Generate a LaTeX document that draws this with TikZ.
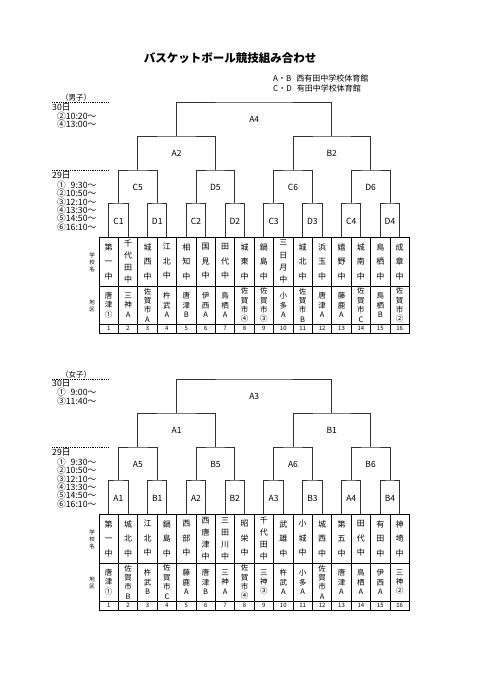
\documentclass[tikz,border=0pt]{standalone}
\usepackage{fontspec}
\setmainfont{Noto Sans CJK JP}
\usetikzlibrary{calc}

\begin{document}
\begin{tikzpicture}[x=1pt, y=-1pt,
  bline/.style={draw=black!80, line width=1pt},
  cell/.style={draw, line width=0.7pt, inner sep=0pt, minimum width=19.4pt, align=center},
  namecell/.style={cell, minimum height=49pt},
  regcell/.style={cell, minimum height=38pt, font=\fontsize{7.5}{9.4}\selectfont},
  numcell/.style={cell, minimum height=9pt, font=\fontsize{6}{6}\selectfont},
  mlab/.style={font=\fontsize{8.5}{8.5}\selectfont, inner sep=0pt},
  txt/.style={font=\fontsize{8.7}{8.7}\selectfont, inner sep=0pt, anchor=west},
  rowlab/.style={font=\fontsize{5.5}{7}\selectfont, align=center, inner sep=0pt},
  dayline/.style={draw, line width=1pt, dash pattern=on 1pt off 0.8pt}
]
\useasboundingbox (0,0) rectangle (481,680);

\node[font=\bfseries\fontsize{11.5}{12}\selectfont] (title) at (230,58) {バスケットボール競技組み合わせ};
\node[txt, font=\fontsize{8}{8}\selectfont] (venue1) at (273,78) {A・B\hspace{5pt}西有田中学校体育館};
\node[txt, font=\fontsize{8}{8}\selectfont] (venue2) at (273,88) {C・D\hspace{5pt}有田中学校体育館};

% boys
\node[mlab, font=\fontsize{7.5}{7.5}\selectfont] (bsex) at (76,98) {（男子）};
\draw[dayline] (52,102) -- (109,102);
\node[txt] (bday30) at (52,107.5) {30日};
\foreach \t [count=\n] in {②10:20～, ④13:00～}
  \node[txt] (btm30-\n) at (57,{107.6+8.4*\n}) {\t};
\draw[dayline] (52,170) -- (109,170);
\node[txt] (bday29) at (52,175.5) {29日};
\foreach \t [count=\n] in {①\hphantom{1}9:30～, ②10:50～, ③12:10～, ④13:30～, ⑤14:50～, ⑥16:10～}
  \node[txt] (btm29-\n) at (57,{176.6+8.4*\n}) {\t};

\node[rowlab] (bhd1) at (92,262) {学\\校\\名};
\node[rowlab] (bhd2) at (92,306) {地\\区};
\foreach \i/\ls/\nm/\rg in {1/14.5/第\\一\\中/唐\\津\\①, 2/12.2/千\\代\\田\\中/三\\神\\A,
    3/14.5/城\\西\\中/佐\\賀\\市\\A, 4/14.5/江\\北\\中/杵\\武\\A, 5/14.5/相\\知\\中/唐\\津\\B,
    6/14.5/国\\見\\中/伊\\西\\A, 7/14.5/田\\代\\中/鳥\\栖\\A, 8/14.5/城\\東\\中/佐\\賀\\市\\④,
    9/14.5/鍋\\島\\中/佐\\賀\\市\\③, 10/12.2/三\\日\\月\\中/小\\多\\A, 11/14.5/城\\北\\中/佐\\賀\\市\\B,
    12/14.5/浜\\玉\\中/唐\\津\\A, 13/14.5/嬉\\野\\中/藤\\鹿\\A, 14/14.5/城\\南\\中/佐\\賀\\市\\C,
    15/14.5/鳥\\栖\\中/鳥\\栖\\B, 16/14.5/成\\章\\中/佐\\賀\\市\\②} {
  \node[namecell, font=\fontsize{8}{\ls}\selectfont] (bs\i) at ({89.3+19.4*\i},261.5) {\nm};
  \node[regcell] (br\i) at ({89.3+19.4*\i},305) {\rg};
  \node[numcell] (bn\i) at ({89.3+19.4*\i},328.5) {\i};
}
\foreach \k/\lab [evaluate=\k as \ka using int(2*\k-1), evaluate=\k as \kb using int(2*\k)]
    in {1/C1, 2/D1, 3/C2, 4/D2, 5/C3, 6/D3, 7/C4, 8/D4} {
  \coordinate (bk1-\k) at ({99+38.8*(\k-0.5)},203);
  \node[mlab] (bm1-\k) at ({99+38.8*(\k-0.5)},221) {\lab};
  \draw[bline] (bs\ka.north) |- (bk1-\k) -| (bs\kb.north);
}
\foreach \k/\lab [evaluate=\k as \ka using int(2*\k-1), evaluate=\k as \kb using int(2*\k)]
    in {1/C5, 2/D5, 3/C6, 4/D6} {
  \coordinate (bk2-\k) at ({99+77.6*(\k-0.5)},170);
  \node[mlab] (bm2-\k) at ({99+77.6*(\k-0.5)},187) {\lab};
  \draw[bline] (bk1-\ka) |- (bk2-\k) -| (bk1-\kb);
}
\foreach \k/\lab [evaluate=\k as \ka using int(2*\k-1), evaluate=\k as \kb using int(2*\k)]
    in {1/A2, 2/B2} {
  \coordinate (bk3-\k) at ({99+155.2*(\k-0.5)},136);
  \node[mlab] (bm3-\k) at ({99+155.2*(\k-0.5)},153) {\lab};
  \draw[bline] (bk2-\ka) |- (bk3-\k) -| (bk2-\kb);
}
\coordinate (bk4) at (254.2,102);
\node[mlab] (bm4) at (254.2,119) {A4};
\draw[bline] (bk3-1) |- (bk4) -| (bk3-2);

% girls
\begin{scope}[shift={(0,277)}]
\node[mlab, font=\fontsize{7.5}{7.5}\selectfont] (gsex) at (76,97.5) {（女子）};
\draw[dayline] (52,102) -- (109,102);
\node[txt] (gday30) at (52,106.5) {30日};
\foreach \t [count=\n] in {①\hphantom{1}9:00～, ③11:40～}
  \node[txt] (gtm30-\n) at (57,{106.6+8.8*\n}) {\t};
\draw[dayline] (52,170) -- (109,170);
\node[txt] (gday29) at (52,175.5) {29日};
\foreach \t [count=\n] in {①\hphantom{1}9:30～, ②10:50～, ③12:10～, ④13:30～, ⑤14:50～, ⑥16:10～}
  \node[txt] (gtm29-\n) at (57,{176.6+8.4*\n}) {\t};

\node[rowlab] (ghd1) at (92,262) {学\\校\\名};
\node[rowlab] (ghd2) at (92,306) {地\\区};
\foreach \i/\ls/\nm/\rg in {1/14.5/第\\一\\中/唐\\津\\①, 2/14.5/城\\北\\中/佐\\賀\\市\\B,
    3/14.5/江\\北\\中/杵\\武\\B, 4/14.5/鍋\\島\\中/佐\\賀\\市\\C, 5/14.5/西\\部\\中/藤\\鹿\\A,
    6/12/西\\唐\\津\\中/唐\\津\\B, 7/12/三\\田\\川\\中/三\\神\\A, 8/14.5/昭\\栄\\中/佐\\賀\\市\\④,
    9/12/千\\代\\田\\中/三\\神\\③, 10/14.5/武\\雄\\中/杵\\武\\A, 11/14.5/小\\城\\中/小\\多\\A,
    12/14.5/城\\西\\中/佐\\賀\\市\\A, 13/14.5/第\\五\\中/唐\\津\\A, 14/14.5/田\\代\\中/鳥\\栖\\A,
    15/14.5/有\\田\\中/伊\\西\\A, 16/14.5/神\\埼\\中/三\\神\\②} {
  \node[namecell, font=\fontsize{8}{\ls}\selectfont] (gs\i) at ({89.3+19.4*\i},261.5) {\nm};
  \node[regcell] (gr\i) at ({89.3+19.4*\i},305) {\rg};
  \node[numcell] (gn\i) at ({89.3+19.4*\i},328.5) {\i};
}
\foreach \k/\lab [evaluate=\k as \ka using int(2*\k-1), evaluate=\k as \kb using int(2*\k)]
    in {1/A1, 2/B1, 3/A2, 4/B2, 5/A3, 6/B3, 7/A4, 8/B4} {
  \coordinate (gk1-\k) at ({99+38.8*(\k-0.5)},203);
  \node[mlab] (gm1-\k) at ({99+38.8*(\k-0.5)},221) {\lab};
  \draw[bline] (gs\ka.north) |- (gk1-\k) -| (gs\kb.north);
}
\foreach \k/\lab [evaluate=\k as \ka using int(2*\k-1), evaluate=\k as \kb using int(2*\k)]
    in {1/A5, 2/B5, 3/A6, 4/B6} {
  \coordinate (gk2-\k) at ({99+77.6*(\k-0.5)},170);
  \node[mlab] (gm2-\k) at ({99+77.6*(\k-0.5)},187) {\lab};
  \draw[bline] (gk1-\ka) |- (gk2-\k) -| (gk1-\kb);
}
\foreach \k/\lab [evaluate=\k as \ka using int(2*\k-1), evaluate=\k as \kb using int(2*\k)]
    in {1/A1, 2/B1} {
  \coordinate (gk3-\k) at ({99+155.2*(\k-0.5)},136);
  \node[mlab] (gm3-\k) at ({99+155.2*(\k-0.5)},153) {\lab};
  \draw[bline] (gk2-\ka) |- (gk3-\k) -| (gk2-\kb);
}
\coordinate (gk4) at (254.2,102);
\node[mlab] (gm4) at (254.2,119) {A3};
\draw[bline] (gk3-1) |- (gk4) -| (gk3-2);
\end{scope}
\end{tikzpicture}
\end{document}
